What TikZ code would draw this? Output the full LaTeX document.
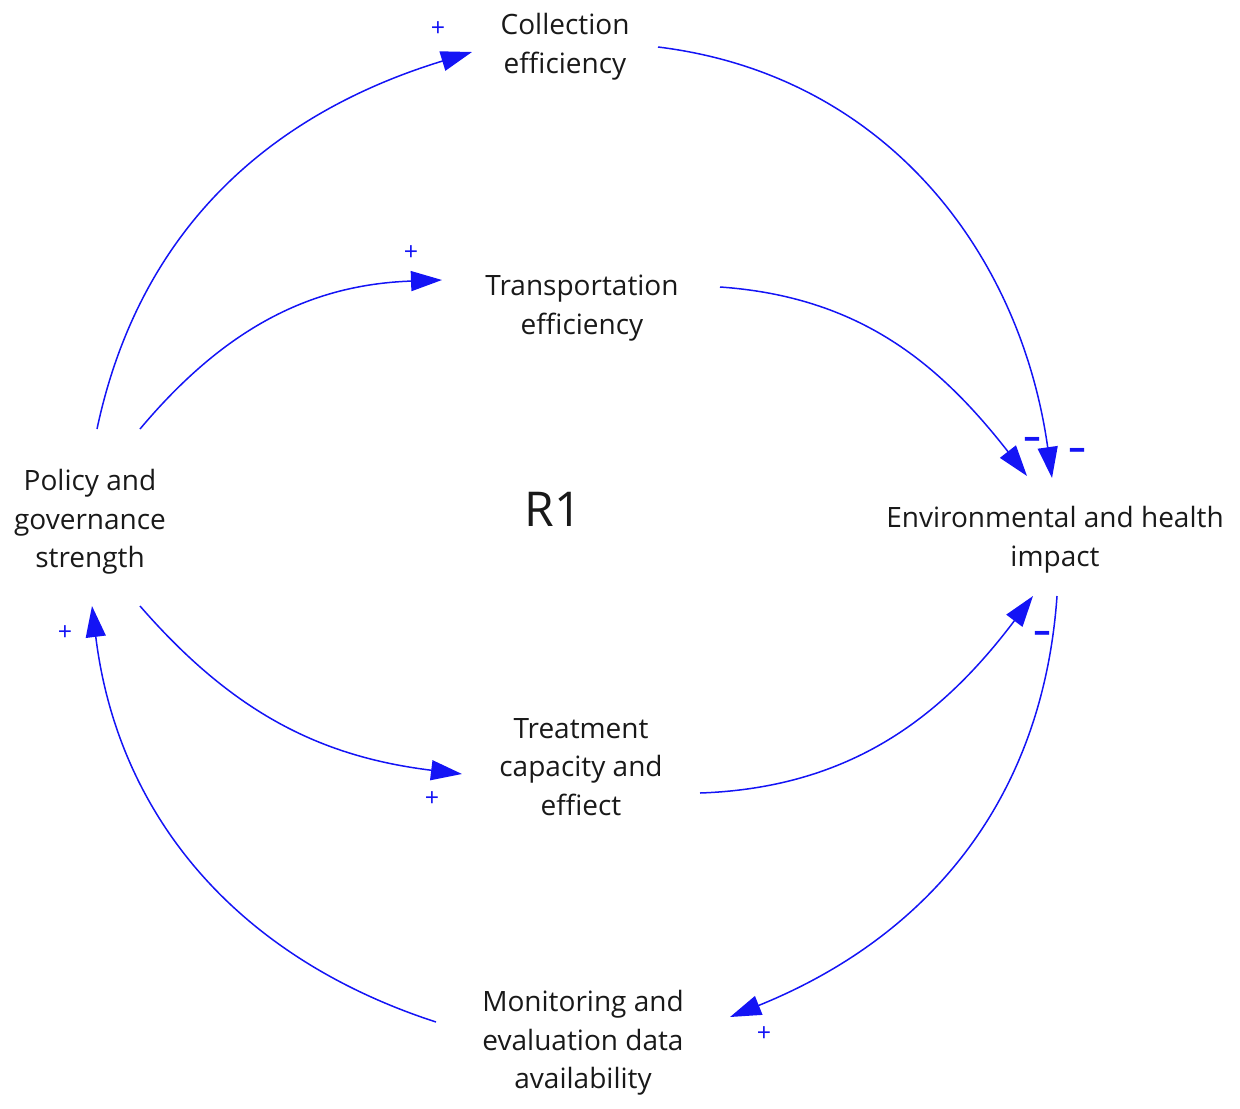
\documentclass[tikz,border=0pt]{standalone}
\usepackage{fontspec}
\setmainfont{Open Sans}
\usetikzlibrary{arrows.meta}
\definecolor{lnk}{RGB}{20,20,245}
\definecolor{txt}{RGB}{25,25,25}
\tikzset{
  var/.style={align=center, text=txt, font=\fontsize{14}{19.3}\selectfont, inner sep=0pt},
  link/.style={draw=lnk, line width=0.75pt, -{Triangle[length=15.5pt,width=10pt]}},
  plus/.style={text=lnk, font=\fontsize{12.5}{13}\selectfont, inner sep=0pt},
  minus/.style={text=lnk, font=\fontsize{17}{17}\bfseries\selectfont, inner sep=0pt}
}
\begin{document}
\begin{tikzpicture}[x=0.5pt,y=0.5pt]
\useasboundingbox (0,0) rectangle (1240,-1108);
\node[var] (coll)  at (565,-47)  {Collection\\efficiency};
\node[var] (trans) at (582,-308) {Transportation\\efficiency};
\node[var] (pol)   at (90,-522)  {Policy and\\governance\\strength};
\node[var] (env)   at (1055,-540) {Environmental and health\\impact};
\node[var] (treat) at (581,-767) {Treatment\\capacity and\\effiect};
\node[var] (mon)   at (583,-1043) {Monitoring and\\evaluation data\\availability};
\node[text=txt, font=\fontsize{24}{28}\selectfont, inner sep=0pt] (r1) at (553,-509) {R1};

\draw[link] ([shift={(7,93)}]pol.center) to[out=78,in=197] ([shift={(-93,-5)}]coll.center);
\draw[link] ([shift={(50,93)}]pol.center) to[out=50,in=182] ([shift={(-140,28)}]trans.center);
\draw[link] ([shift={(93,0)}]coll.center) to[out=-7,in=98] ([shift={(-3,62)}]env.center);
\draw[link] ([shift={(138,21)}]trans.center) to[out=-4,in=128] ([shift={(-28,64)}]env.center);
\draw[link] ([shift={(50,-84)}]pol.center) to[out=-49,in=173] ([shift={(-119,-7)}]treat.center);
\draw[link] ([shift={(119,-26)}]treat.center) to[out=2,in=233] ([shift={(-22,-56)}]env.center);
\draw[link] ([shift={(2,-56)}]env.center) to[out=-94,in=22] ([shift={(147,26)}]mon.center);
\draw[link] ([shift={(-147,21)}]mon.center) to[out=162,in=-83] ([shift={(2,-84)}]pol.center);

\node[plus] (p1) at (438,-29) {+};
\node[plus] (p2) at (411,-253) {+};
\node[minus] (m1) at (1032,-443) {–};
\node[minus] (m2) at (1077,-454) {–};
\node[minus] (m3) at (1042,-637) {–};
\node[plus] (p3) at (432,-799) {+};
\node[plus] (p4) at (764,-1034) {+};
\node[plus] (p5) at (65,-633) {+};
\end{tikzpicture}
\end{document}
